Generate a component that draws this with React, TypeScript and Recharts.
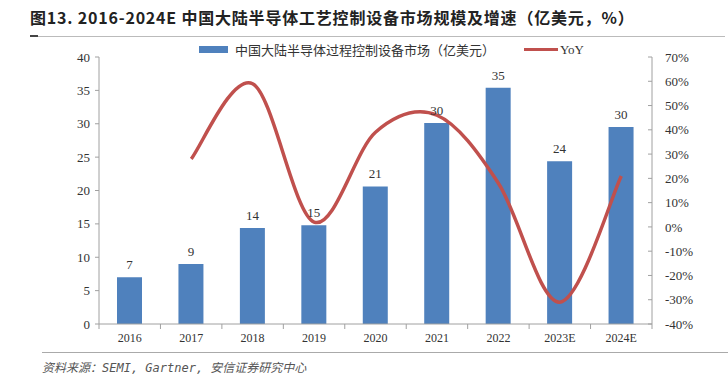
import { Bar, ComposedChart, LabelList, Line, XAxis, YAxis } from "recharts";

const YEARS = ["2016", "2017", "2018", "2019", "2020", "2021", "2022", "2023E", "2024E"];
const MARKET = [7.0, 9.0, 14.4, 14.8, 20.6, 30.1, 35.4, 24.4, 29.5];
const YOY: (number | null)[] = [null, 28, 59, 2, 39, 46, 18, -31, 21];
const LEFT_TICKS = [0, 5, 10, 15, 20, 25, 30, 35, 40];
const RIGHT_TICKS = [-40, -30, -20, -10, 0, 10, 20, 30, 40, 50, 60, 70];

const BAR_NAME = "中国大陆半导体过程控制设备市场（亿美元）";
const LINE_NAME = "YoY";
const TITLE = "图13. 2016-2024E 中国大陆半导体工艺控制设备市场规模及增速（亿美元，%）";
const SOURCE = "资料来源：SEMI, Gartner, 安信证券研究中心";

const BLUE = "#4F81BD";
const RED = "#C0504D";
const AXIS = "#A0A0A0";
const INK = "#333333";
const SERIF = '"Liberation Serif", "Times New Roman", "Noto Sans CJK SC", serif';
const CJK = '"Noto Sans CJK SC", sans-serif';

const W = 728;
const H = 382;
const PLOT_LEFT = 99;
const PLOT_RIGHT = 652;
const PLOT_TOP = 57;
const PLOT_BOTTOM = 324;
const HALF_BAND = (PLOT_RIGHT - PLOT_LEFT) / YEARS.length / 2;

const data = YEARS.map((year, i) => ({ year, market: MARKET[i], yoy: YOY[i] }));

// Excel-style smoothed line (Catmull-Rom as cubic beziers)
function excelSmooth(context: any) {
  let pts: [number, number][] = [];
  return {
    areaStart() {},
    areaEnd() {},
    lineStart() {
      pts = [];
    },
    lineEnd() {
      if (!pts.length) return;
      context.moveTo(pts[0][0], pts[0][1]);
      for (let i = 0; i < pts.length - 1; i++) {
        const p0 = pts[Math.max(i - 1, 0)];
        const p1 = pts[i];
        const p2 = pts[i + 1];
        const p3 = pts[Math.min(i + 2, pts.length - 1)];
        context.bezierCurveTo(
          p1[0] + (p2[0] - p0[0]) / 6,
          p1[1] + (p2[1] - p0[1]) / 6,
          p2[0] - (p3[0] - p1[0]) / 6,
          p2[1] - (p3[1] - p1[1]) / 6,
          p2[0],
          p2[1]
        );
      }
    },
    point(x: number, y: number) {
      pts.push([+x, +y]);
    },
  };
}

function YearTick(props: any) {
  const { x, y, payload, index } = props;
  const last = index === YEARS.length - 1;
  return (
    <g>
      <line x1={x - HALF_BAND} x2={x - HALF_BAND} y1={y} y2={y + 5} stroke={AXIS} />
      {last && <line x1={x + HALF_BAND} x2={x + HALF_BAND} y1={y} y2={y + 5} stroke={AXIS} />}
      <text x={x} y={y + 18} textAnchor="middle" fontSize={12} fill={INK} fontFamily={SERIF}>
        {payload.value}
      </text>
    </g>
  );
}

export default function App() {
  return (
    <div style={{ position: "absolute", left: 0, top: 0, width: W, height: H, background: "#fff" }}>
      <div
        style={{
          position: "absolute",
          left: 30,
          top: 5,
          fontFamily: CJK,
          fontWeight: 700,
          fontSize: 16,
          letterSpacing: 0.8,
          color: "#222",
          whiteSpace: "nowrap",
        }}
      >
        {TITLE}
      </div>
      <div style={{ position: "absolute", left: 30, top: 36, width: 695, height: 1, background: "#BBBBBB" }} />
      <div style={{ position: "absolute", left: 30, top: 35, width: 8, height: 2, background: "#444" }} />

      <div
        style={{
          position: "absolute",
          left: 199,
          top: 40,
          display: "flex",
          alignItems: "center",
          fontFamily: SERIF,
          fontSize: 13,
          color: INK,
          whiteSpace: "nowrap",
        }}
      >
        <span style={{ display: "inline-block", width: 29, height: 7, background: BLUE, marginRight: 7 }} />
        <span>{BAR_NAME}</span>
        <span style={{ display: "inline-block", width: 34, height: 3, background: RED, marginLeft: 29, marginRight: 2 }} />
        <span>{LINE_NAME}</span>
      </div>

      <ComposedChart
        width={W}
        height={H}
        data={data}
        margin={{ top: PLOT_TOP, right: W - PLOT_RIGHT - 76, bottom: H - PLOT_BOTTOM - 58, left: 0 }}
      >
        <XAxis
          dataKey="year"
          height={58}
          stroke={AXIS}
          tickLine={false}
          tickSize={0}
          tickMargin={0}
          interval={0}
          tick={<YearTick />}
        />
        <YAxis
          yAxisId="left"
          width={PLOT_LEFT}
          domain={[0, 40]}
          ticks={LEFT_TICKS}
          stroke={AXIS}
          tickSize={4}
          tickMargin={5}
          tick={{ fontSize: 13, fill: INK, fontFamily: SERIF }}
          interval={0}
        />
        <YAxis
          yAxisId="right"
          orientation="right"
          width={76}
          domain={[-40, 70]}
          ticks={RIGHT_TICKS}
          stroke={AXIS}
          tickSize={-4}
          tickMargin={17}
          tick={{ fontSize: 13, fill: INK, fontFamily: SERIF }}
          tickFormatter={(v: number) => `${v}%`}
          interval={0}
        />
        <Bar yAxisId="left" dataKey="market" name={BAR_NAME} fill={BLUE} barSize={25} isAnimationActive={false}>
          <LabelList
            dataKey="market"
            position="top"
            offset={8}
            formatter={(v: any) => Math.round(Number(v))}
            style={{ fontSize: 13, fill: INK, fontFamily: SERIF }}
          />
        </Bar>
        <Line
          yAxisId="right"
          dataKey="yoy"
          name={LINE_NAME}
          type={excelSmooth as any}
          stroke={RED}
          strokeWidth={3.5}
          dot={false}
          activeDot={false}
          isAnimationActive={false}
        />
      </ComposedChart>

      <div style={{ position: "absolute", left: 42, top: 352, width: 686, height: 1, background: "#AAAAAA" }} />
      <div
        style={{
          position: "absolute",
          left: 42,
          top: 358,
          fontFamily: '"DejaVu Sans Mono", "Noto Sans CJK SC", monospace',
          fontStyle: "italic",
          fontSize: 12,
          color: "#555",
          whiteSpace: "nowrap",
        }}
      >
        {SOURCE}
      </div>
    </div>
  );
}
